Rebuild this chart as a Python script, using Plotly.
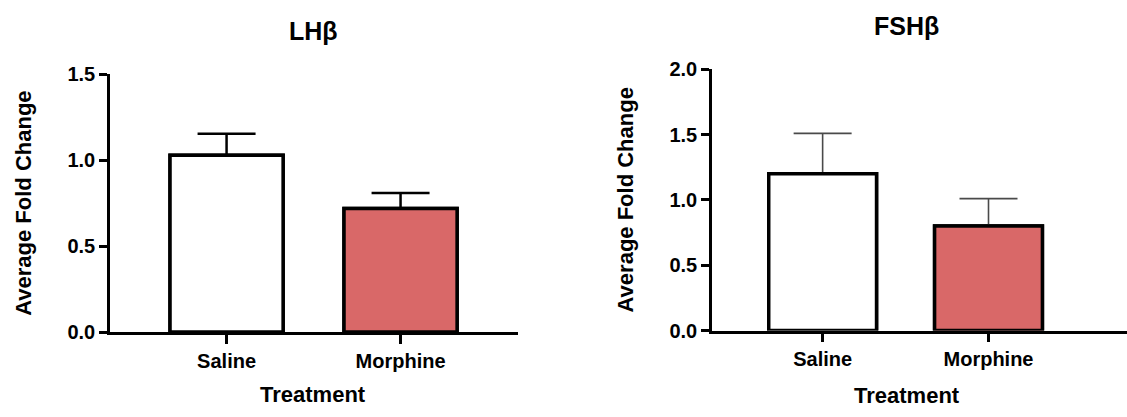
import plotly.graph_objects as go

# Expression data (mean fold change and SEM) by treatment
treatments = ["Saline", "Morphine"]
lh_mean = [1.03, 0.72]
lh_sem = [0.125, 0.09]
fsh_mean = [1.20, 0.80]
fsh_sem = [0.31, 0.21]

lh_ticks = [0.0, 0.5, 1.0, 1.5]
fsh_ticks = [0.0, 0.5, 1.0, 1.5, 2.0]

bar_fill = ["#FFFFFF", "#D96868"]
FONT = "Liberation Sans, Arial, Helvetica, sans-serif"
W, H = 1127, 417


def px_x(v):
    return v / W


def px_y(v):
    return 1 - v / H


fig = go.Figure()


def add_panel(xa, ya, means, sems, err_color, err_thick):
    # bars carrying the error bars
    fig.add_trace(go.Bar(
        x=treatments, y=means, xaxis=xa, yaxis=ya,
        marker=dict(color=bar_fill, line=dict(color="black", width=3.5)),
        width=0.65,
        error_y=dict(type="data", array=sems, symmetric=True,
                     color=err_color, thickness=err_thick, width=29),
        showlegend=False, hoverinfo="skip",
    ))
    # same bars on top so only the upper half of each error bar shows
    fig.add_trace(go.Bar(
        x=treatments, y=means, xaxis=xa, yaxis=ya,
        marker=dict(color=bar_fill, line=dict(color="black", width=3.5)),
        width=0.65, showlegend=False, hoverinfo="skip",
    ))


add_panel("x", "y", lh_mean, lh_sem, "black", 2.5)
add_panel("x2", "y2", fsh_mean, fsh_sem, "#4a4a4a", 1.6)

axis_common = dict(
    showgrid=False, zeroline=False, showline=True, linecolor="black",
    linewidth=2.5, ticks="outside", tickcolor="black", tickwidth=2.5,
    tickfont=dict(family=FONT, size=20, color="black", weight="bold"),
    fixedrange=True,
)

fig.update_layout(
    width=W, height=H, margin=dict(l=0, r=0, t=0, b=0),
    paper_bgcolor="white", plot_bgcolor="white", barmode="overlay",
    xaxis=dict(axis_common, domain=[px_x(110), px_x(518)],
               range=[-0.67, 1.675], ticklen=9, anchor="y"),
    yaxis=dict(axis_common, domain=[px_y(339), px_y(67)], range=[0, 1.5],
               tickvals=lh_ticks, ticktext=[f"{t:.1f}" for t in lh_ticks],
               ticklen=8, anchor="x"),
    xaxis2=dict(axis_common, domain=[px_x(712), 1.0],
                range=[-0.667, 1.835], ticklen=9, anchor="y2"),
    yaxis2=dict(axis_common, domain=[px_y(337.3), px_y(61.7)], range=[0, 2.0],
                tickvals=fsh_ticks, ticktext=[f"{t:.1f}" for t in fsh_ticks],
                ticklen=8, anchor="x2"),
)

txt = dict(family=FONT, color="black", weight="bold")
annotations = [
    dict(text="LHβ", x=px_x(313), y=px_y(21), font=dict(txt, size=25)),
    dict(text="FSHβ", x=px_x(906), y=px_y(16), font=dict(txt, size=25)),
    dict(text="Treatment", x=px_x(313), y=px_y(405), font=dict(txt, size=22)),
    dict(text="Treatment", x=px_x(907), y=px_y(406), font=dict(txt, size=22)),
    dict(text="Average Fold Change", x=px_x(24), y=px_y(203.5),
         textangle=-90, font=dict(txt, size=22)),
    dict(text="Average Fold Change", x=px_x(625), y=px_y(200),
         textangle=-90, font=dict(txt, size=22)),
]
for a in annotations:
    fig.add_annotation(xref="paper", yref="paper", showarrow=False,
                       xanchor="center", yanchor="middle", **a)

fig.write_html("out.html")
